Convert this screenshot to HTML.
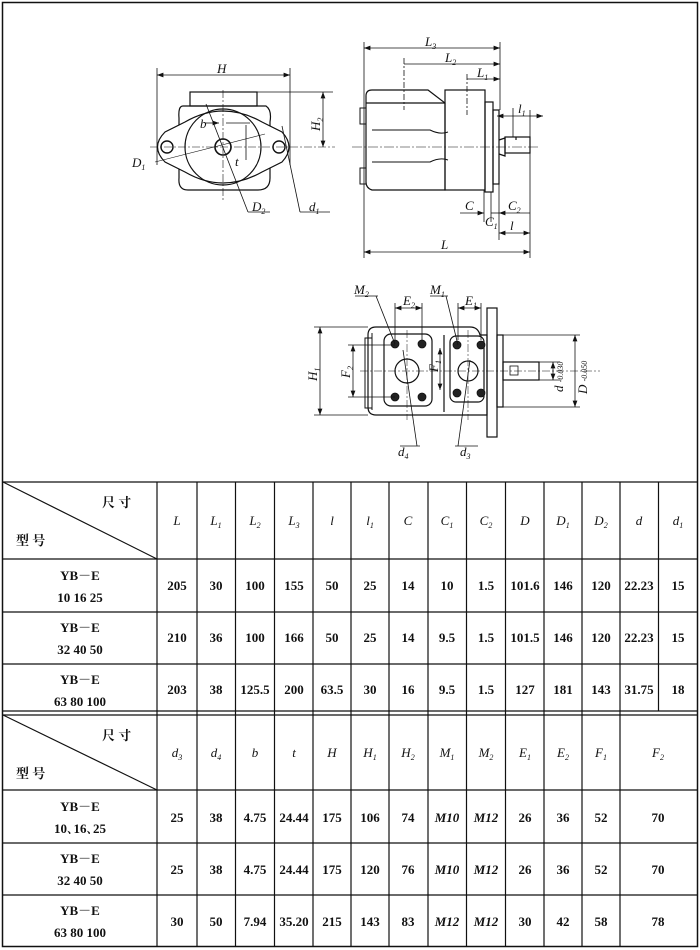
<!DOCTYPE html>
<html><head><meta charset="utf-8"><style>
html,body{margin:0;padding:0;background:#fff}
svg{display:block}
.lb{font-family:"Liberation Serif",serif;font-style:italic;font-size:13px;fill:#111}
.sb{font-size:8px}
.t{font-family:"Liberation Serif","Noto Serif CJK SC",serif;font-size:13px;fill:#111;text-anchor:middle;font-weight:bold}
.ti{font-family:"Liberation Serif",serif;font-style:italic;font-size:13px;fill:#111;text-anchor:middle}
.cj{font-family:"Liberation Serif","Noto Serif CJK SC",serif;font-size:13px;fill:#111;font-weight:bold}
</style></head><body>
<svg width="700" height="950" viewBox="0 0 700 950" xmlns="http://www.w3.org/2000/svg">
<defs><marker id="a" markerWidth="8" markerHeight="6" refX="8" refY="3" orient="auto-start-reverse"><path d="M0,0 L8,3 L0,6z" fill="#111"/></marker></defs>
<rect x="2.5" y="2.5" width="695" height="944" fill="none" stroke="#111" stroke-width="1.5"/>

<!-- FRONT VIEW -->
<g stroke="#111" fill="none" stroke-width="1.2">
<line x1="157" y1="68" x2="157" y2="165" stroke-width="0.8"/>
<line x1="290" y1="68" x2="290" y2="165" stroke-width="0.8"/>
<line x1="157" y1="75" x2="290" y2="75" stroke-width="0.8" marker-start="url(#a)" marker-end="url(#a)"/>
<rect x="190" y="92" width="67" height="14"/>
<path d="M183,106 L266,106 Q272,110 270,122 L270,178 Q270,190 258,190 L188,190 Q178,190 179,178 L179,118 Q178,106 183,106z"/>
<path d="M185,122 Q223,100 262,122 L282,132 Q296,147 282,162 L262,172 Q223,194 185,172 L165,162 Q150,147 165,132z" fill="#fff"/>
<circle cx="223" cy="147" r="38"/>
<circle cx="223" cy="147" r="8" stroke-width="1.6"/>
<circle cx="167" cy="147" r="6" stroke-width="1.4"/>
<circle cx="279" cy="147" r="6" stroke-width="1.4"/>
<line x1="150" y1="147" x2="335" y2="147" stroke-width="0.6" stroke-dasharray="8,2,2,2"/>
<line x1="223" y1="90" x2="223" y2="200" stroke-width="0.6" stroke-dasharray="8,2,2,2"/>
<line x1="257" y1="92" x2="333" y2="92" stroke-width="0.8"/>
<line x1="323" y1="92" x2="323" y2="147" stroke-width="0.8" marker-start="url(#a)" marker-end="url(#a)"/>
<line x1="206" y1="123" x2="219" y2="123" stroke-width="0.8" marker-end="url(#a)"/>
<line x1="226" y1="123" x2="250" y2="123" stroke-width="0.8"/>
<line x1="246" y1="125" x2="246" y2="160" stroke-width="0.8"/>
<line x1="206" y1="104" x2="248" y2="212" stroke-width="0.8"/>
<line x1="248" y1="212" x2="270" y2="212" stroke-width="0.8"/>
<line x1="282" y1="126" x2="300" y2="212" stroke-width="0.8"/>
<line x1="300" y1="212" x2="330" y2="212" stroke-width="0.8"/>
<line x1="155" y1="162" x2="265" y2="134" stroke-width="0.6"/>
</g>
<text class="lb" x="217" y="73">H</text>
<text class="lb" x="0" y="0" transform="translate(320,131) rotate(-90)">H<tspan class="sb" dy="3">2</tspan></text>
<text class="lb" x="200" y="128">b</text>
<text class="lb" x="235" y="166">t</text>
<text class="lb" x="132" y="167">D<tspan class="sb" dy="3">1</tspan></text>
<text class="lb" x="252" y="211">D<tspan class="sb" dy="3">2</tspan></text>
<text class="lb" x="309" y="211">d<tspan class="sb" dy="3">1</tspan></text>

<!-- SIDE VIEW -->
<g stroke="#111" fill="none" stroke-width="1.2">
<line x1="364" y1="42" x2="364" y2="258" stroke-width="0.8"/>
<line x1="500" y1="42" x2="500" y2="110" stroke-width="0.8"/>
<line x1="364" y1="48" x2="500" y2="48" stroke-width="0.8" marker-start="url(#a)" marker-end="url(#a)"/>
<line x1="404" y1="58" x2="404" y2="110" stroke-width="0.8" stroke-dasharray="6,2,2,2"/>
<line x1="404" y1="64" x2="500" y2="64" stroke-width="0.8" marker-end="url(#a)"/>
<line x1="467" y1="74" x2="467" y2="115" stroke-width="0.8" stroke-dasharray="6,2,2,2"/>
<line x1="467" y1="79" x2="500" y2="79" stroke-width="0.8" marker-end="url(#a)"/>
<path d="M372,90 L428,90 L445,103 L445,190 L372,190 Q366,188 366,182 L366,96 Q366,90 372,90z"/>
<line x1="366" y1="103" x2="445" y2="103"/>
<path d="M372,130 L430,130 Q440,135 448,132 M372,162 L430,162 Q440,157 448,160" stroke-width="1"/>
<rect x="445" y="90" width="40" height="100"/>
<rect x="485" y="102" width="8" height="90"/>
<rect x="493" y="110" width="6" height="74"/>
<path d="M499,140 L505,138 L505,156 L499,154"/>
<rect x="505" y="137" width="25" height="16"/>
<line x1="516" y1="137" x2="516" y2="140"/>
<rect x="360" y="108" width="6" height="16" stroke-width="1"/>
<rect x="360" y="168" width="6" height="16" stroke-width="1"/>
<line x1="352" y1="147" x2="540" y2="147" stroke-width="0.6" stroke-dasharray="10,2,2,2"/>
<line x1="530" y1="110" x2="530" y2="258" stroke-width="0.8"/>
<line x1="513" y1="108" x2="513" y2="137" stroke-width="0.8"/>
<line x1="497" y1="116" x2="543" y2="116" stroke-width="0.8" marker-start="url(#a)" marker-end="url(#a)"/>
<line x1="484" y1="190" x2="484" y2="222" stroke-width="0.8"/>
<line x1="491" y1="192" x2="491" y2="222" stroke-width="0.8"/>
<line x1="499" y1="184" x2="499" y2="240" stroke-width="0.8"/>
<line x1="460" y1="213" x2="484" y2="213" stroke-width="0.8" marker-end="url(#a)"/>
<line x1="491" y1="213" x2="499" y2="213" stroke-width="0.8"/>
<line x1="499" y1="213" x2="530" y2="213" stroke-width="0.8" marker-start="url(#a)"/>
<line x1="499" y1="233" x2="530" y2="233" stroke-width="0.8" marker-start="url(#a)" marker-end="url(#a)"/>
<line x1="364" y1="252" x2="530" y2="252" stroke-width="0.8" marker-start="url(#a)" marker-end="url(#a)"/>
</g>
<text class="lb" x="425" y="46">L<tspan class="sb" dy="3">3</tspan></text>
<text class="lb" x="445" y="62">L<tspan class="sb" dy="3">2</tspan></text>
<text class="lb" x="477" y="77">L<tspan class="sb" dy="3">1</tspan></text>
<text class="lb" x="518" y="113">l<tspan class="sb" dy="3">1</tspan></text>
<text class="lb" x="465" y="210">C</text>
<text class="lb" x="508" y="210">C<tspan class="sb" dy="3">2</tspan></text>
<text class="lb" x="485" y="226">C<tspan class="sb" dy="3">1</tspan></text>
<text class="lb" x="510" y="230">l</text>
<text class="lb" x="441" y="249">L</text>

<!-- REAR VIEW -->
<g stroke="#111" fill="none" stroke-width="1.2">
<path d="M376,327 L470,327 Q478,327 480,335 L487,335 L487,415 L376,415 Q368,415 368,407 L368,335 Q368,327 376,327z"/>
<path d="M372,333 L372,410" stroke-width="1"/>
<rect x="365" y="338" width="7" height="70" stroke-width="1"/>
<line x1="444" y1="335" x2="444" y2="412"/>
<rect x="384" y="334" width="48" height="72" rx="7"/>
<rect x="450" y="336" width="34" height="66" rx="6"/>
<circle cx="407" cy="371" r="12"/>
<circle cx="468" cy="371" r="10"/>
<g fill="#222" stroke-width="0.8">
<circle cx="395" cy="344" r="4"/><circle cx="422" cy="344" r="4"/><circle cx="395" cy="397" r="4"/><circle cx="422" cy="397" r="4"/>
<circle cx="457" cy="345" r="4"/><circle cx="481" cy="345" r="4"/><circle cx="457" cy="393" r="4"/><circle cx="481" cy="393" r="4"/>
</g>
<rect x="487" y="308" width="10" height="129"/>
<rect x="497" y="335" width="6" height="72"/>
<rect x="503" y="362" width="36" height="18"/>
<rect x="510" y="366" width="8" height="9" stroke-width="0.8"/>
<line x1="503" y1="335" x2="580" y2="335" stroke-width="0.8"/>
<line x1="503" y1="407" x2="580" y2="407" stroke-width="0.8"/>
<line x1="575" y1="335" x2="575" y2="407" stroke-width="0.8" marker-start="url(#a)" marker-end="url(#a)"/>
<line x1="539" y1="362" x2="560" y2="362" stroke-width="0.8"/>
<line x1="539" y1="380" x2="560" y2="380" stroke-width="0.8"/>
<line x1="553" y1="362" x2="553" y2="380" stroke-width="0.8" marker-start="url(#a)" marker-end="url(#a)"/>
<line x1="314" y1="327" x2="368" y2="327" stroke-width="0.8"/>
<line x1="314" y1="415" x2="368" y2="415" stroke-width="0.8"/>
<line x1="320" y1="327" x2="320" y2="415" stroke-width="0.8" marker-start="url(#a)" marker-end="url(#a)"/>
<line x1="348" y1="345" x2="395" y2="345" stroke-width="0.8"/>
<line x1="348" y1="397" x2="395" y2="397" stroke-width="0.8"/>
<line x1="353" y1="345" x2="353" y2="397" stroke-width="0.8" marker-start="url(#a)" marker-end="url(#a)"/>
<line x1="440" y1="348" x2="440" y2="390" stroke-width="0.8" marker-start="url(#a)" marker-end="url(#a)"/>
<line x1="395" y1="303" x2="395" y2="340" stroke-width="0.8"/>
<line x1="422" y1="303" x2="422" y2="340" stroke-width="0.8"/>
<line x1="395" y1="308" x2="422" y2="308" stroke-width="0.8" marker-start="url(#a)" marker-end="url(#a)"/>
<line x1="458" y1="303" x2="458" y2="340" stroke-width="0.8"/>
<line x1="481" y1="303" x2="481" y2="340" stroke-width="0.8"/>
<line x1="458" y1="308" x2="481" y2="308" stroke-width="0.8" marker-start="url(#a)" marker-end="url(#a)"/>
<line x1="355" y1="296" x2="378" y2="296" stroke-width="0.8"/>
<line x1="376" y1="296" x2="395" y2="344" stroke-width="0.8"/>
<line x1="430" y1="296" x2="448" y2="296" stroke-width="0.8"/>
<line x1="446" y1="296" x2="458" y2="345" stroke-width="0.8"/>
<line x1="403" y1="350" x2="417" y2="446" stroke-width="0.8"/>
<line x1="400" y1="446" x2="420" y2="446" stroke-width="0.8"/>
<line x1="470" y1="360" x2="458" y2="446" stroke-width="0.8"/>
<line x1="455" y1="446" x2="478" y2="446" stroke-width="0.8"/>
<line x1="360" y1="371" x2="600" y2="371" stroke-width="0.5" stroke-dasharray="8,2,2,2"/>
<line x1="407" y1="330" x2="407" y2="420" stroke-width="0.5" stroke-dasharray="8,2,2,2"/>
<line x1="468" y1="330" x2="468" y2="420" stroke-width="0.5" stroke-dasharray="8,2,2,2"/>
</g>
<text class="lb" x="354" y="294">M<tspan class="sb" dy="3">2</tspan></text>
<text class="lb" x="430" y="294">M<tspan class="sb" dy="3">1</tspan></text>
<text class="lb" x="403" y="305">E<tspan class="sb" dy="3">2</tspan></text>
<text class="lb" x="465" y="305">E<tspan class="sb" dy="3">1</tspan></text>
<text class="lb" x="398" y="456">d<tspan class="sb" dy="3">4</tspan></text>
<text class="lb" x="460" y="456">d<tspan class="sb" dy="3">3</tspan></text>
<text class="lb" transform="translate(317,381) rotate(-90)">H<tspan class="sb" dy="3">1</tspan></text>
<text class="lb" transform="translate(350,378) rotate(-90)">F<tspan class="sb" dy="3">2</tspan></text>
<text class="lb" transform="translate(438,372) rotate(-90)">F<tspan class="sb" dy="3">1</tspan></text>
<text class="lb" transform="translate(563,392) rotate(-90)">d <tspan class="sb">-0.030</tspan></text>
<text class="lb" transform="translate(587,394) rotate(-90)">D <tspan class="sb">-0.050</tspan></text>

<!-- TABLE -->
<g stroke="#111" stroke-width="1.2">
<line x1="2" y1="482" x2="698" y2="482"/>
<line x1="2" y1="559" x2="698" y2="559"/>
<line x1="2" y1="612" x2="698" y2="612"/>
<line x1="2" y1="664" x2="698" y2="664"/>
<line x1="2" y1="711" x2="698" y2="711"/>
<line x1="2" y1="715" x2="698" y2="715"/>
<line x1="2" y1="790" x2="698" y2="790"/>
<line x1="2" y1="843" x2="698" y2="843"/>
<line x1="2" y1="895" x2="698" y2="895"/>
<line x1="3" y1="482" x2="157" y2="559"/>
<line x1="3" y1="715" x2="157" y2="790"/>
<line x1="157" y1="482" x2="157" y2="947"/>
<g id="cols">
<line x1="197" y1="482" x2="197" y2="947"/><line x1="235.5" y1="482" x2="235.5" y2="947"/>
<line x1="274.5" y1="482" x2="274.5" y2="947"/><line x1="313" y1="482" x2="313" y2="947"/>
<line x1="351" y1="482" x2="351" y2="947"/><line x1="389" y1="482" x2="389" y2="947"/>
<line x1="428" y1="482" x2="428" y2="947"/><line x1="466.5" y1="482" x2="466.5" y2="947"/>
<line x1="505.5" y1="482" x2="505.5" y2="947"/><line x1="544" y1="482" x2="544" y2="947"/>
<line x1="582" y1="482" x2="582" y2="947"/><line x1="620" y1="482" x2="620" y2="947"/>
<line x1="658.5" y1="482" x2="658.5" y2="711"/>
</g>
</g>
<text class="cj" x="102" y="507">尺 寸</text><text class="cj" x="16" y="545">型 号</text>
<text class="cj" x="102" y="740">尺 寸</text><text class="cj" x="16" y="778">型 号</text>
<g class="ti">
<text x="177" y="525">L</text><text x="216" y="525">L<tspan class="sb" dy="3">1</tspan></text><text x="255" y="525">L<tspan class="sb" dy="3">2</tspan></text><text x="294" y="525">L<tspan class="sb" dy="3">3</tspan></text><text x="332" y="525">l</text><text x="370" y="525">l<tspan class="sb" dy="3">1</tspan></text><text x="408" y="525">C</text><text x="447" y="525">C<tspan class="sb" dy="3">1</tspan></text><text x="486" y="525">C<tspan class="sb" dy="3">2</tspan></text><text x="525" y="525">D</text><text x="563" y="525">D<tspan class="sb" dy="3">1</tspan></text><text x="601" y="525">D<tspan class="sb" dy="3">2</tspan></text><text x="639" y="525">d</text><text x="678" y="525">d<tspan class="sb" dy="3">1</tspan></text>
<text x="177" y="757">d<tspan class="sb" dy="3">3</tspan></text><text x="216" y="757">d<tspan class="sb" dy="3">4</tspan></text><text x="255" y="757">b</text><text x="294" y="757">t</text><text x="332" y="757">H</text><text x="370" y="757">H<tspan class="sb" dy="3">1</tspan></text><text x="408" y="757">H<tspan class="sb" dy="3">2</tspan></text><text x="447" y="757">M<tspan class="sb" dy="3">1</tspan></text><text x="486" y="757">M<tspan class="sb" dy="3">2</tspan></text><text x="525" y="757">E<tspan class="sb" dy="3">1</tspan></text><text x="563" y="757">E<tspan class="sb" dy="3">2</tspan></text><text x="601" y="757">F<tspan class="sb" dy="3">1</tspan></text><text x="658" y="757">F<tspan class="sb" dy="3">2</tspan></text>
</g>
<g class="t">
<text x="80" y="580">YB－E</text><text x="80" y="602">10 16 25</text>
<text x="80" y="632">YB－E</text><text x="80" y="654">32 40 50</text>
<text x="80" y="684">YB－E</text><text x="80" y="706">63 80 100</text>
<text x="80" y="811">YB－E</text><text x="80" y="833">10､16､25</text>
<text x="80" y="863">YB－E</text><text x="80" y="885">32 40 50</text>
<text x="80" y="915">YB－E</text><text x="80" y="937">63 80 100</text>
</g>
<g class="t">
<text x="177" y="590">205</text><text x="216" y="590">30</text><text x="255" y="590">100</text><text x="294" y="590">155</text><text x="332" y="590">50</text><text x="370" y="590">25</text><text x="408" y="590">14</text><text x="447" y="590">10</text><text x="486" y="590">1.5</text><text x="525" y="590">101.6</text><text x="563" y="590">146</text><text x="601" y="590">120</text><text x="639" y="590">22.23</text><text x="678" y="590">15</text>
<text x="177" y="642">210</text><text x="216" y="642">36</text><text x="255" y="642">100</text><text x="294" y="642">166</text><text x="332" y="642">50</text><text x="370" y="642">25</text><text x="408" y="642">14</text><text x="447" y="642">9.5</text><text x="486" y="642">1.5</text><text x="525" y="642">101.5</text><text x="563" y="642">146</text><text x="601" y="642">120</text><text x="639" y="642">22.23</text><text x="678" y="642">15</text>
<text x="177" y="694">203</text><text x="216" y="694">38</text><text x="255" y="694">125.5</text><text x="294" y="694">200</text><text x="332" y="694">63.5</text><text x="370" y="694">30</text><text x="408" y="694">16</text><text x="447" y="694">9.5</text><text x="486" y="694">1.5</text><text x="525" y="694">127</text><text x="563" y="694">181</text><text x="601" y="694">143</text><text x="639" y="694">31.75</text><text x="678" y="694">18</text>
<text x="177" y="822">25</text><text x="216" y="822">38</text><text x="255" y="822">4.75</text><text x="294" y="822">24.44</text><text x="332" y="822">175</text><text x="370" y="822">106</text><text x="408" y="822">74</text><text x="447" y="822" font-style="italic">M10</text><text x="486" y="822" font-style="italic">M12</text><text x="525" y="822">26</text><text x="563" y="822">36</text><text x="601" y="822">52</text><text x="658" y="822">70</text>
<text x="177" y="874">25</text><text x="216" y="874">38</text><text x="255" y="874">4.75</text><text x="294" y="874">24.44</text><text x="332" y="874">175</text><text x="370" y="874">120</text><text x="408" y="874">76</text><text x="447" y="874" font-style="italic">M10</text><text x="486" y="874" font-style="italic">M12</text><text x="525" y="874">26</text><text x="563" y="874">36</text><text x="601" y="874">52</text><text x="658" y="874">70</text>
<text x="177" y="926">30</text><text x="216" y="926">50</text><text x="255" y="926">7.94</text><text x="294" y="926">35.20</text><text x="332" y="926">215</text><text x="370" y="926">143</text><text x="408" y="926">83</text><text x="447" y="926" font-style="italic">M12</text><text x="486" y="926" font-style="italic">M12</text><text x="525" y="926">30</text><text x="563" y="926">42</text><text x="601" y="926">58</text><text x="658" y="926">78</text>
</g>
</svg>
</body></html>
